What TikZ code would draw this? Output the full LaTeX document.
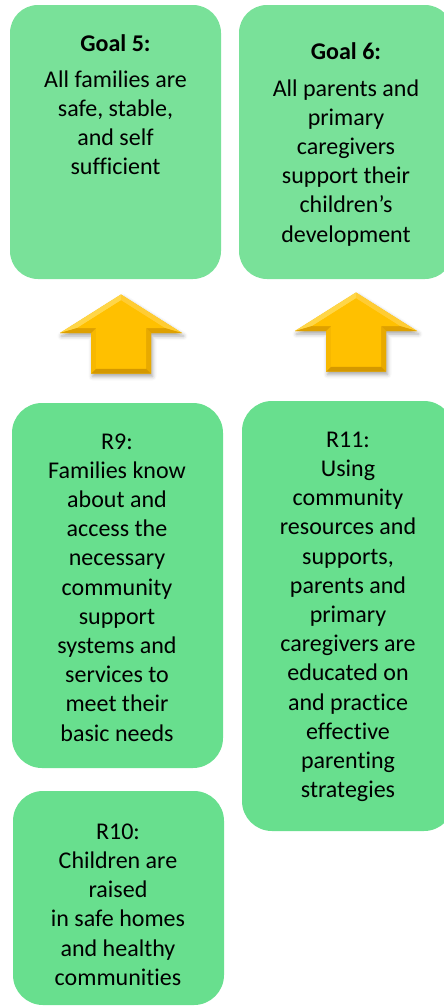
\documentclass[tikz,border=0pt]{standalone}
\usepackage{fontspec}
\setmainfont{Carlito}[Ligatures=CommonOff]
\usetikzlibrary{shadows.blur}
\definecolor{goalgreen}{RGB}{121,225,153}
\definecolor{rgreen}{RGB}{104,223,142}
\definecolor{gold}{RGB}{255,192,0}
\definecolor{bevA}{RGB}{255,214,72}
\definecolor{bevB}{RGB}{255,204,51}
\definecolor{bevC}{RGB}{222,160,0}
\definecolor{bevD}{RGB}{232,170,0}
\definecolor{bevE}{RGB}{212,152,0}
\definecolor{bevF}{RGB}{247,184,0}
\tikzset{
  goldarrow/.pic={
    \coordinate (o1) at (0,0);
    \coordinate (o2) at (61,38.5);
    \coordinate (o3) at (30,38.5);
    \coordinate (o4) at (30,79);
    \coordinate (o5) at (-30,79);
    \coordinate (o6) at (-30,38.5);
    \coordinate (o7) at (-61,38.5);
    \coordinate (i1) at (0,5.9);
    \coordinate (i2) at (43.7,33.5);
    \coordinate (i3) at (25,33.5);
    \coordinate (i4) at (25,74);
    \coordinate (i5) at (-25,74);
    \coordinate (i6) at (-25,33.5);
    \coordinate (i7) at (-43.7,33.5);
    \fill[gold, blur shadow={shadow xshift=1.5pt, shadow yshift=-3pt, shadow blur radius=4pt, shadow opacity=35}]
      (o1) -- (o2) -- (o3) -- (o4) -- (o5) -- (o6) -- (o7) -- cycle;
    \fill[bevA] (o7) -- (o1) -- (i1) -- (i7) -- cycle;
    \fill[bevB] (o1) -- (o2) -- (i2) -- (i1) -- cycle;
    \fill[bevC] (o2) -- (o3) -- (i3) -- (i2) -- cycle;
    \fill[bevD] (o3) -- (o4) -- (i4) -- (i3) -- cycle;
    \fill[bevE] (o4) -- (o5) -- (i5) -- (i4) -- cycle;
    \fill[bevF] (o5) -- (o6) -- (i6) -- (i5) -- cycle;
    \fill[bevC] (o6) -- (o7) -- (i7) -- (i6) -- cycle;
    \fill[gold] (i1) -- (i2) -- (i3) -- (i4) -- (i5) -- (i6) -- (i7) -- cycle;
  }
}
\begin{document}
\begin{tikzpicture}[x=1pt,y=-1pt,
  goalbox/.style={fill=goalgreen, draw=none, rounded corners=28pt, inner sep=0pt},
  rbox/.style={fill=rgreen, draw=none, rounded corners=30pt, inner sep=0pt},
  boxtext/.style={align=center, anchor=base, inner sep=0pt, font=\fontsize{24}{29.2}\selectfont},
]
\useasboundingbox (0,0) rectangle (444,1007);

% goal boxes
\node[goalbox, minimum width=211pt, minimum height=274pt] (g5) at (115.5,142) {};
\node[goalbox, minimum width=214pt, minimum height=274pt] (g6) at (346,142) {};
% result boxes
\node[rbox, minimum width=211pt, minimum height=365pt] (r9) at (117.5,585.5) {};
\node[rbox, minimum width=212pt, minimum height=430pt] (r11) at (348,616) {};
\node[rbox, minimum width=211pt, minimum height=214pt] (r10) at (118.5,898) {};

% arrows
\pic at (121,294.5) {goldarrow};
\pic at (356,292.5) {goldarrow};

% texts (base anchor = baseline of last line)
\node[boxtext] (g5t) at (115.5,174.9) {\textbf{Goal 5:}\\[6.4pt]All families are\\safe, stable,\\and self\\sufficient};
\node[boxtext] (g6t) at (346,242) {\textbf{Goal 6:}\\[7.5pt]All parents and\\primary\\caregivers\\support their\\children’s\\development};
\node[boxtext] (r9t) at (117,741) {R9:\\Families know\\about and\\access the\\necessary\\community\\support\\systems and\\services to\\meet their\\basic needs};
\node[boxtext] (r11t) at (348,797.7) {R11:\\Using\\community\\resources and\\supports,\\parents and\\primary\\caregivers are\\educated on\\and practice\\effective\\parenting\\strategies};
\node[boxtext] (r10t) at (118,985.3) {R10:\\Children are\\raised\\in safe homes\\and healthy\\communities};
\end{tikzpicture}
\end{document}
